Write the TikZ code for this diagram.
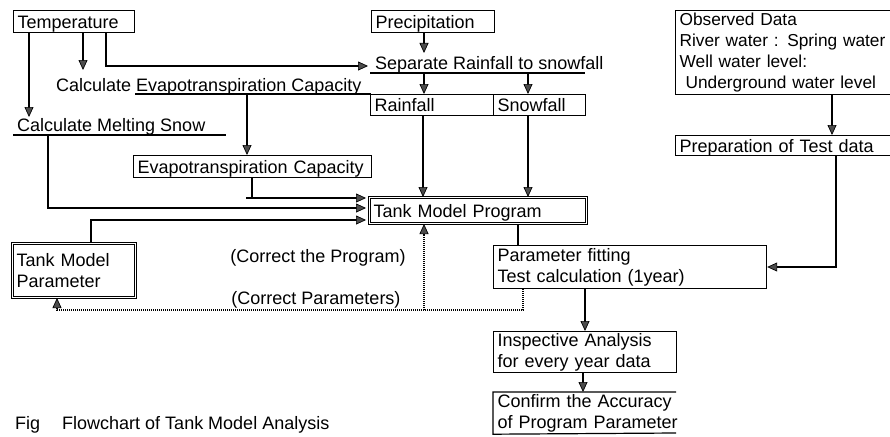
\documentclass[tikz,border=0pt]{standalone}
\usepackage{fontspec}
\setmainfont{Liberation Sans}
\usetikzlibrary{arrows.meta}
\begin{document}
\begin{tikzpicture}[x=1pt,y=-1pt,
  font=\fontsize{18}{21}\selectfont,
  box/.style={draw, line width=1.2pt, inner xsep=4pt, inner ysep=0pt, align=left, anchor=north west},
  sl/.style={text height=15pt, text depth=2pt},
  dbox/.style={box, double, double distance=1.5pt, line width=1pt},
  lbl/.style={inner sep=0pt, anchor=base west},
  tipend/.style={-{Triangle[length=10pt,width=9pt,line width=0.7pt,fill=black!70]}},
  arr/.style={line width=2.2pt, line cap=rect, tipend},
  thinl/.style={line width=1.2pt},
  uline/.style={line width=1.2pt},
  dots/.style={line width=1.7pt, dash pattern=on 1pt off 1pt}
]
\fill[white] (0,0) rectangle (890,436);
\useasboundingbox (0,0) rectangle (890,436);

% boxes and labels
\node[box, sl, text width=113pt, minimum height=22pt] (temp) at (13,10) {Temperature};
\node[box, sl, text width=115pt, minimum height=22pt] (precip) at (371,10) {Precipitation};
\node[box, text width=217pt, minimum height=84pt, font=\fontsize{17.3}{21}\selectfont] (obs) at (675,10) {Observed Data\\River water : Spring water\\Well water level:\\\hspace*{6pt}Underground water level};
\node[box, sl, text width=217pt, minimum height=20pt] (prep) at (675,135) {Preparation of Test data};
\node[lbl] (sep) at (375,69) {Separate Rainfall to snowfall};
\node[lbl] (evapcalc) at (56,91) {Calculate Evapotranspiration Capacity};
\node[box, sl, text width=115pt, minimum height=21pt] (rain) at (370,94) {Rainfall};
\node[box, sl, text width=84pt, minimum height=21pt] (snow) at (493,94) {Snowfall};
\node[lbl] (melt) at (17,131) {Calculate Melting Snow};
\node[box, sl, text width=230pt, minimum height=22pt] (evap) at (133,155) {Evapotranspiration Capacity};
\node[dbox, sl, text width=209pt, minimum height=26pt] (tank) at (369,197) {Tank Model Program};
\node[dbox, text width=115pt, minimum height=54pt] (param) at (12,243) {Tank Model\\Parameter};
\node[box, text width=265pt, minimum height=43pt] (fit) at (493,245) {Parameter fitting\\Test calculation (1year)};
\node[box, text width=175pt, minimum height=41pt] (insp) at (493,331) {Inspective Analysis\\for every year data};
\node[box, draw=none, text width=190pt, minimum height=41pt] (conf) at (493,392) {Confirm the Accuracy\\of Program Parameter};
\node (cprog) at (318,258) {(Correct the Program)};
\node (cpar) at (316,300) {(Correct Parameters)};
\node[lbl] (cap) at (15,429) {Fig\hspace{22pt}Flowchart of Tank Model Analysis};

% underlines and open box
\coordinate (sepUL) at (370,73); \coordinate (sepUR) at (585,73);
\draw[uline] (sepUL) -- (sepUR);
\coordinate (ecUL) at (135,94); \coordinate (ecUR) at (371,94);
\draw[uline] (ecUL) -- (ecUR);
\coordinate (mUL) at (13,135); \coordinate (mUR) at (226,135);
\draw[uline] (mUL) -- (mUR);
\coordinate (cfTR) at (676,392); \coordinate (cfBR) at (676,433);
\draw[line width=1.2pt] (cfTR) -- (conf.north west) -- (conf.south west) -- (cfBR);

% connectors
\coordinate (mArr) at (29,117);
\draw[arr] (temp.south -| mArr) -- (mArr);
\coordinate (ecArr) at (83,70);
\draw[arr] (temp.south -| ecArr) -- (ecArr);
\coordinate (tsBend) at (106,66); \coordinate (sepArr) at (368,66);
\draw[thinl] (temp.south -| tsBend) -- (tsBend);
\draw[arr] (tsBend) -- (sepArr);
\coordinate (psArr) at (424,53);
\draw[arr] (precip.south -| psArr) -- (psArr);
\coordinate (srTop) at (424,73);
\draw[arr] (srTop) -- (srTop |- rain.north);
\coordinate (ssTop) at (528,73);
\draw[arr] (ssTop) -- (ssTop |- snow.north);
\coordinate (eeTop) at (247,94);
\draw[arr] (eeTop) -- (eeTop |- evap.north);
\coordinate (rtX) at (423,0);
\draw[arr] (rain.south -| rtX) -- (rtX |- tank.north);
\draw[arr] (snow.south -| ssTop) -- (ssTop |- tank.north);
\coordinate (tankIn) at (366,0);
\coordinate (mtBend) at (48,208);
\draw[thinl] (mUL -| mtBend) -- (mtBend);
\draw[arr] (mtBend) -- (tankIn |- mtBend);
\coordinate (etBend) at (252,198); \coordinate (etStart) at (247,198);
\draw[thinl] (evap.south -| etBend) -- (etBend);
\draw[arr] (etStart) -- (tankIn |- etStart);
\coordinate (ptBend) at (91,220);
\draw[thinl] (param.north -| ptBend) -- (ptBend);
\draw[arr] (ptBend) -- (tankIn |- ptBend);
\coordinate (tfX) at (518,0);
\draw[thinl] (tank.south -| tfX) -- (fit.north -| tfX);
\coordinate (opX) at (832,0);
\draw[arr] (obs.south -| opX) -- (prep.north -| opX);
\coordinate (pfBend) at (836,267);
\draw[thinl] (prep.south -| pfBend) -- (pfBend);
\draw[arr] (pfBend) -- (fit.east |- pfBend);
\coordinate (fiX) at (585,0);
\draw[arr] (fit.south -| fiX) -- (insp.north -| fiX);
\coordinate (icX) at (583,0);
\draw[arr] (insp.south -| icX) -- (conf.north -| icX);
% dotted feedback
\coordinate (dR) at (523,310); \coordinate (dL) at (57,310); \coordinate (dM) at (424,310);
\draw[dots, tipend] (fit.south -| dR) -- (dR) -- (dL) -- (dL |- param.south);
\draw[dots, tipend] (dM) -- (dM |- tank.south);
\end{tikzpicture}
\end{document}
